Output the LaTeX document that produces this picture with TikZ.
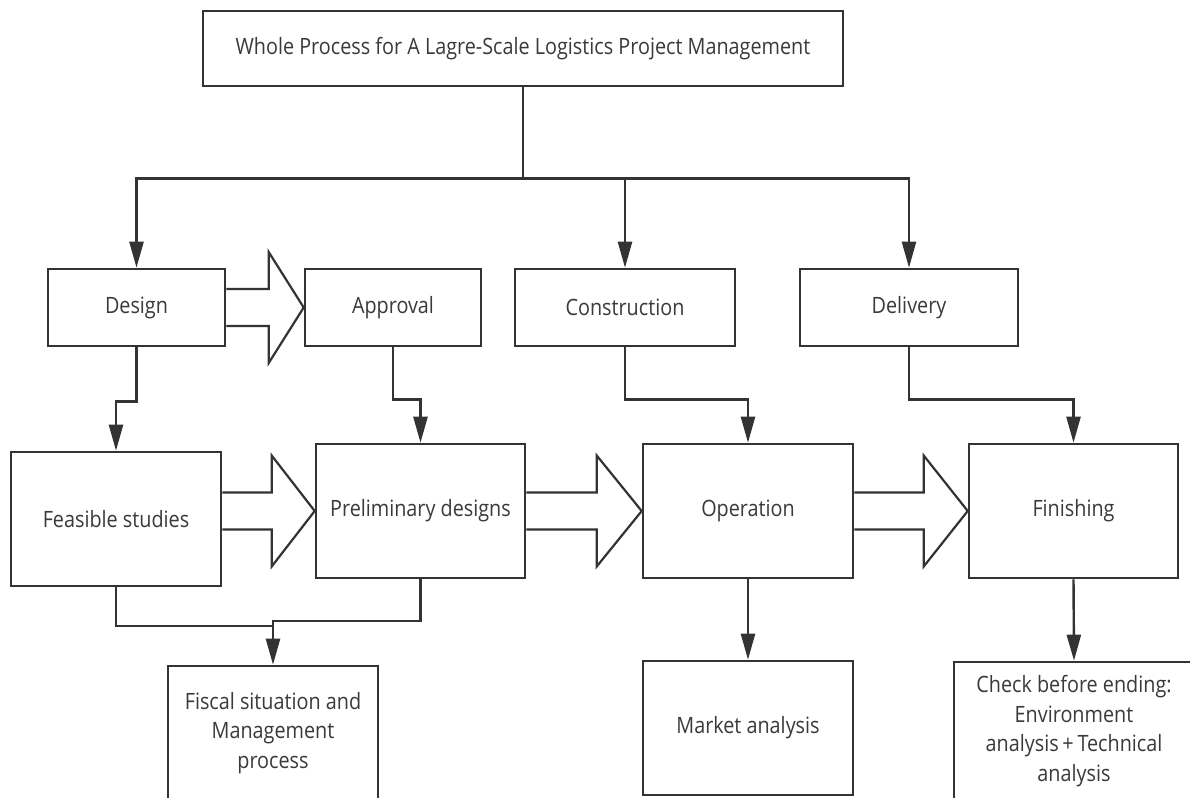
\documentclass[tikz,border=0pt]{standalone}
\usepackage{fontspec}
\setmainfont[FakeStretch=0.88]{Open Sans}
\usetikzlibrary{arrows.meta,calc}
\definecolor{ink}{HTML}{333333}
\definecolor{txt}{HTML}{3A3A3A}
\tikzset{
  box/.style={draw=ink, line width=2.6pt, fill=white, inner sep=0pt, align=center,
              text=txt, font=\fontsize{22.5}{29.5}\selectfont},
  link/.style={draw=ink, line width=2.4pt},
  flow/.style={link, -{Triangle[length=26pt,width=14pt]}},
  fat/.style={draw=ink, line width=2.2pt, fill=white, line join=miter},
}
% hollow block arrow from point #1 to point #2, with a head #3 long
\newcommand\fatarrow[3]{%
  \path[fat] let \p1=(#1), \p2=(#2) in
    (\x1,\y1+18.5pt) -- (\x2-#3,\y1+18.5pt) -- (\x2-#3,\y1+55.5pt) -- (\x2,\y1)
    -- (\x2-#3,\y1-55.5pt) -- (\x2-#3,\y1-18.5pt) -- (\x1,\y1-18.5pt);}
\begin{document}
\begin{tikzpicture}[x=1pt,y=-1pt]
\useasboundingbox (0,0) rectangle (1190,797);
\fill[white] (0,0) rectangle (1190,797);
\begin{scope}
\clip (0,0) rectangle (1190,797);

% boxes
\node[box, minimum width=640, minimum height=75] (title) at (523,48.5)
  {Whole Process for A Lagre-Scale Logistics Project Management};
\node[box, minimum width=177, minimum height=77] (design) at (136.5,307.5) {Design};
\node[box, minimum width=176, minimum height=77] (approval) at (393,307.5) {Approval};
\node[box, minimum width=220, minimum height=77] (construction) at (625,307.5) {Construction};
\node[box, minimum width=218, minimum height=77] (delivery) at (909,307.5) {Delivery};
\node[box, minimum width=210, minimum height=134] (feasible) at (116,519) {Feasible studies};
\node[box, minimum width=209, minimum height=134] (prelim) at (420.5,511) {Preliminary designs};
\node[box, minimum width=210, minimum height=134] (operation) at (748,511) {Operation};
\node[box, minimum width=209, minimum height=134] (finishing) at (1073.5,511) {Finishing};
\node[box, minimum width=210, minimum height=134] (fiscal) at (273,733)
  {Fiscal situation and\\Management\\process};
\node[box, minimum width=210, minimum height=134] (market) at (748,728) {Market analysis};
\node[box, minimum width=240, minimum height=138] (check) at (1074,731)
  {Check before ending:\\Environment\\analysis\,+\,Technical\\analysis};

% top-level split
\coordinate (split) at ($(title.south)+(0,91)$);
\draw[link] (title.south) -- (split);
\draw[flow] (split) -| (design.north);
\draw[flow] (split) -| (construction.north);
\draw[flow] (split) -| (delivery.north);

% stage to sub-stage links
\draw[flow] (design.south) |- ++(0,54) -| (feasible.north);
\draw[flow] (approval.south) |- ++(0,52) -| (prelim.north);
\draw[flow] (construction.south) |- ++(0,52) -| (operation.north);
\draw[flow] (delivery.south) |- ++(0,52) -| (finishing.north);

% fiscal merge
\coordinate (merge) at ($(fiscal.north)+(0,-44)$);
\draw[link] (feasible.south) |- ($(merge)+(0,5)$);
\draw[flow] (prelim.south) |- (merge) -- (fiscal.north);

% downward outputs
\draw[flow] (operation.south) -- (market.north);
\draw[flow] (finishing.south) -- (check.north);

% hollow block arrows
\fatarrow{design.east}{approval.west}{35pt}
\fatarrow{feasible.east |- prelim.west}{prelim.west}{43pt}
\fatarrow{prelim.east}{operation.west}{45pt}
\fatarrow{operation.east}{finishing.west}{44pt}
\end{scope}
\end{tikzpicture}
\end{document}
